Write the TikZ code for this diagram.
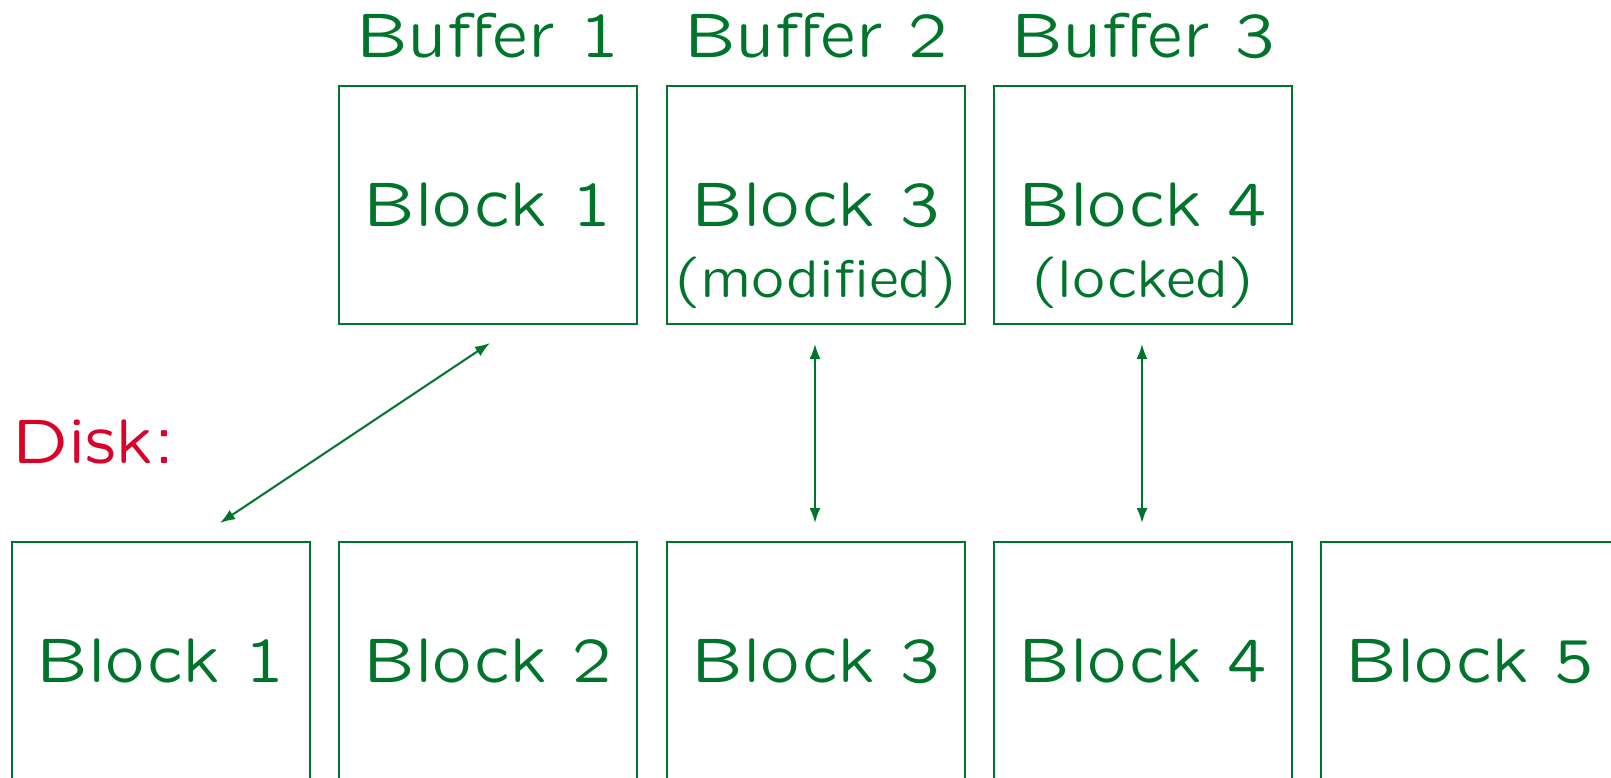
\documentclass[tikz,border=0pt]{standalone}
\usetikzlibrary{arrows.meta}
\definecolor{dgreen}{RGB}{0,116,42}
\definecolor{dred}{RGB}{218,0,40}
\newcommand{\quotfont}[1]{\fontfamily{lmssq}\fontsize{#1}{#1}\selectfont}
\tikzset{
  blockbox/.style={draw=dgreen, line width=1.8pt, minimum width=298pt, minimum height=238pt, inner sep=0pt, text=dgreen, font=\quotfont{63}},
  biglabel/.style={text=dgreen, inner sep=0pt, anchor=base, font=\quotfont{63}},
  smalllabel/.style={text=dgreen, inner sep=0pt, anchor=base, font=\quotfont{53}},
  xfer/.style={draw=dgreen, line width=2pt, {Latex[length=15pt,width=11pt]}-{Latex[length=15pt,width=11pt]}}
}
\begin{document}
\begin{tikzpicture}[x=1pt,y=-1pt]
\useasboundingbox (0,0) rectangle (1611,778);
\clip (0,0) rectangle (1611,778);
% buffer labels
\node[biglabel] (bl1) at (488,58) {Buffer 1};
\node[biglabel] (bl2) at (816,58) {Buffer 2};
\node[biglabel] (bl3) at (1143,58) {Buffer 3};
% buffer boxes
\node[blockbox] (buf1) at (488,205) {Block 1};
\node[blockbox] (buf2) at (816,205) {Block 3};
\node[blockbox] (buf3) at (1143,205) {Block 4};
\node[smalllabel] (mod) at (816,297) {(modified)};
\node[smalllabel] (lck) at (1143,297) {(locked)};
% disk
\node[text=dred, inner sep=0pt, anchor=base west, font=\quotfont{63}] (disk) at (12,463) {Disk:};
\node[blockbox] (d1) at (161,661) {Block 1};
\node[blockbox] (d2) at (488,661) {Block 2};
\node[blockbox] (d3) at (816,661) {Block 3};
\node[blockbox] (d4) at (1143,661) {Block 4};
\node[blockbox] (d5) at (1470,661) {Block 5};
% arrows
\coordinate (a1t) at (490,343);
\coordinate (a1b) at (220,523);
\coordinate (a2t) at (815,344);
\coordinate (a2b) at (815,523);
\coordinate (a3t) at (1142,344);
\coordinate (a3b) at (1142,523);
\draw[xfer] (a1t) -- (a1b);
\draw[xfer] (a2t) -- (a2b);
\draw[xfer] (a3t) -- (a3b);
\end{tikzpicture}
\end{document}
